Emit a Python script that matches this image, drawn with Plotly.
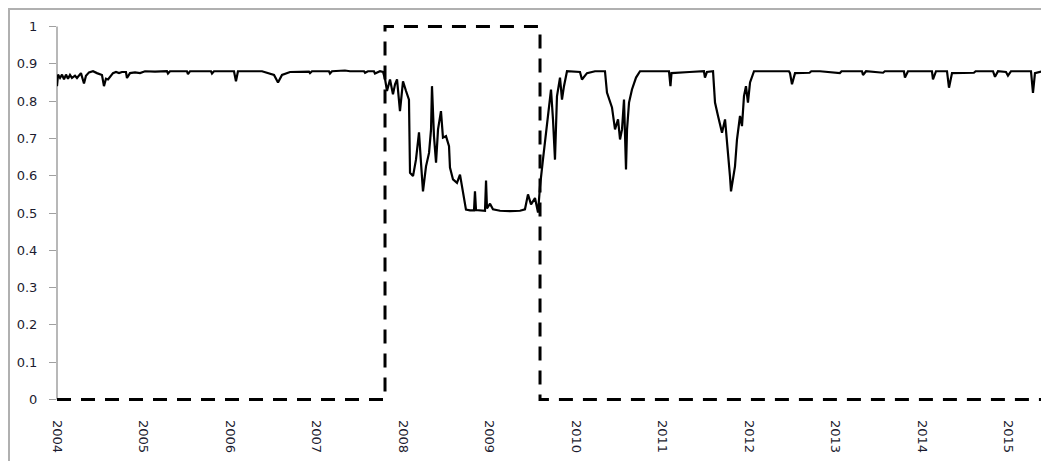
import plotly.graph_objects as go

# Smoothed probability series (decimal years, value)
prob_x = [2004.000, 2004.012, 2004.035, 2004.058, 2004.081, 2004.104, 2004.127, 2004.150, 2004.173, 2004.208,
          2004.231, 2004.254, 2004.277, 2004.312, 2004.335, 2004.370, 2004.416, 2004.462, 2004.520, 2004.543,
          2004.566, 2004.590, 2004.613, 2004.647, 2004.682, 2004.717, 2004.751, 2004.797, 2004.809, 2004.844,
          2004.902, 2004.960, 2005.017, 2005.133, 2005.271, 2005.283, 2005.306, 2005.502, 2005.514, 2005.538,
          2005.780, 2005.792, 2005.815, 2006.046, 2006.069, 2006.092, 2006.370, 2006.428, 2006.509, 2006.555,
          2006.601, 2006.694, 2006.913, 2006.925, 2006.948, 2007.144, 2007.156, 2007.179, 2007.329, 2007.387,
          2007.549, 2007.561, 2007.595, 2007.664, 2007.676, 2007.734, 2007.769, 2007.792, 2007.815, 2007.850,
          2007.884, 2007.908, 2007.931, 2007.965, 2008.000, 2008.035, 2008.069, 2008.081, 2008.116, 2008.150,
          2008.185, 2008.208, 2008.231, 2008.266, 2008.301, 2008.324, 2008.335, 2008.358, 2008.382, 2008.405,
          2008.439, 2008.462, 2008.497, 2008.532, 2008.543, 2008.578, 2008.624, 2008.659, 2008.694, 2008.728,
          2008.775, 2008.821, 2008.832, 2008.844, 2008.948, 2008.960, 2008.971, 2009.006, 2009.040, 2009.121,
          2009.237, 2009.353, 2009.410, 2009.445, 2009.480, 2009.526, 2009.561, 2009.584, 2009.618, 2009.653,
          2009.676, 2009.711, 2009.734, 2009.757, 2009.780, 2009.815, 2009.838, 2009.861, 2009.896, 2010.046,
          2010.069, 2010.127, 2010.220, 2010.335, 2010.358, 2010.393, 2010.416, 2010.451, 2010.486, 2010.509,
          2010.532, 2010.555, 2010.566, 2010.578, 2010.590, 2010.613, 2010.647, 2010.694, 2010.740, 2011.075,
          2011.092, 2011.104, 2011.312, 2011.479, 2011.491, 2011.514, 2011.584, 2011.607, 2011.642, 2011.688,
          2011.723, 2011.757, 2011.780, 2011.792, 2011.815, 2011.838, 2011.861, 2011.896, 2011.919, 2011.942,
          2011.965, 2011.988, 2012.012, 2012.058, 2012.462, 2012.474, 2012.497, 2012.532, 2012.700, 2012.720,
          2012.821, 2013.050, 2013.070, 2013.306, 2013.318, 2013.353, 2013.550, 2013.570, 2013.791, 2013.803,
          2013.838, 2014.115, 2014.127, 2014.162, 2014.289, 2014.312, 2014.347, 2014.600, 2014.620, 2014.821,
          2014.844, 2014.879, 2014.971, 2014.994, 2015.029, 2015.260, 2015.283, 2015.306, 2015.399]
prob_y = [0.840, 0.871, 0.862, 0.871, 0.858, 0.871, 0.860, 0.870, 0.862, 0.868,
          0.862, 0.870, 0.875, 0.847, 0.868, 0.877, 0.880, 0.875, 0.870, 0.840,
          0.860, 0.858, 0.866, 0.875, 0.878, 0.875, 0.878, 0.878, 0.862, 0.875,
          0.877, 0.875, 0.880, 0.879, 0.880, 0.874, 0.880, 0.880, 0.872, 0.880,
          0.880, 0.874, 0.880, 0.880, 0.853, 0.880, 0.880, 0.875, 0.870, 0.850,
          0.870, 0.878, 0.879, 0.875, 0.880, 0.880, 0.874, 0.880, 0.882, 0.880,
          0.880, 0.876, 0.880, 0.880, 0.874, 0.880, 0.878, 0.860, 0.827, 0.858,
          0.818, 0.845, 0.858, 0.773, 0.853, 0.827, 0.804, 0.608, 0.599, 0.643,
          0.716, 0.635, 0.558, 0.625, 0.661, 0.724, 0.840, 0.706, 0.635, 0.724,
          0.773, 0.702, 0.706, 0.679, 0.622, 0.590, 0.581, 0.603, 0.550, 0.509,
          0.507, 0.507, 0.558, 0.508, 0.506, 0.587, 0.512, 0.525, 0.510, 0.506,
          0.505, 0.506, 0.510, 0.550, 0.523, 0.540, 0.501, 0.572, 0.643, 0.716,
          0.751, 0.831, 0.751, 0.643, 0.813, 0.863, 0.804, 0.840, 0.880, 0.878,
          0.858, 0.875, 0.880, 0.880, 0.823, 0.800, 0.783, 0.724, 0.751, 0.697,
          0.724, 0.804, 0.697, 0.617, 0.724, 0.796, 0.831, 0.863, 0.880, 0.880,
          0.840, 0.875, 0.878, 0.880, 0.863, 0.878, 0.880, 0.796, 0.760, 0.715,
          0.751, 0.670, 0.599, 0.558, 0.590, 0.625, 0.697, 0.760, 0.733, 0.813,
          0.840, 0.796, 0.850, 0.880, 0.880, 0.875, 0.845, 0.875, 0.876, 0.880,
          0.880, 0.875, 0.880, 0.880, 0.870, 0.880, 0.876, 0.880, 0.880, 0.863,
          0.880, 0.880, 0.858, 0.880, 0.880, 0.836, 0.875, 0.876, 0.880, 0.880,
          0.865, 0.880, 0.878, 0.868, 0.880, 0.880, 0.822, 0.875, 0.880]

# Regime indicator (step function: value holds until next change point)
regime_x = [2004.000, 2007.792, 2009.584, 2015.420]
regime_y = [0, 1, 0, 0]

year_ticks = [2004, 2005, 2006, 2007, 2008, 2009, 2010, 2011, 2012, 2013, 2014, 2015]
year_labels = [str(y) for y in year_ticks]
y_ticks = [0, 0.1, 0.2, 0.3, 0.4, 0.5, 0.6, 0.7, 0.8, 0.9, 1]
y_labels = ["0", "0.1", "0.2", "0.3", "0.4", "0.5", "0.6", "0.7", "0.8", "0.9", "1"]

fig = go.Figure()
fig.add_trace(go.Scatter(x=regime_x, y=regime_y, mode="lines", line_shape="hv",
                         line=dict(color="black", width=3, dash="14px,10px"),
                         showlegend=False, hoverinfo="skip"))
fig.add_trace(go.Scatter(x=prob_x, y=prob_y, mode="lines",
                         line=dict(color="black", width=2.2),
                         showlegend=False))

# the page body adds an 8px offset, so the figure is sized to fit the window
W, H = 1041, 453
L, R, T, B = 49, 4, 14, 57
pw = W - L - R
ph = H - T - B

fig.update_layout(
    width=W, height=H,
    margin=dict(l=L, r=R, t=T, b=B),
    paper_bgcolor="white", plot_bgcolor="white",
    font=dict(family="DejaVu Sans, Verdana, sans-serif", size=13, color="#1c1c30"),
    xaxis=dict(range=[2004.0, 2004.0 + pw / 86.5], tickvals=year_ticks, ticktext=year_labels,
               tickangle=90, showgrid=False, zeroline=False, showline=False,
               ticks="", ticklabelstandoff=15, tickfont=dict(size=13)),
    yaxis=dict(range=[-0.012, 1.012], tickvals=y_ticks, ticktext=y_labels,
               showgrid=False, zeroline=False, showline=False,
               ticks="outside", ticklen=7, tickcolor="#a0a0a0", tickwidth=1,
               ticklabelstandoff=9, tickfont=dict(size=13)),
    shapes=[
        # y-axis line from 0 to 1
        dict(type="line", xref="paper", yref="y", x0=0, x1=0, y0=0, y1=1,
             line=dict(color="#a0a0a0", width=1.5), layer="below"),
        # outer chart frame (partially outside the visible area)
        dict(type="rect", xref="paper", yref="paper",
             x0=(1 - L) / pw, x1=1.2, y0=-0.5, y1=(H - B - 1) / ph,
             line=dict(color="#b0b0b0", width=2), fillcolor="rgba(0,0,0,0)", layer="below"),
    ],
)

fig.write_html("out.html")
